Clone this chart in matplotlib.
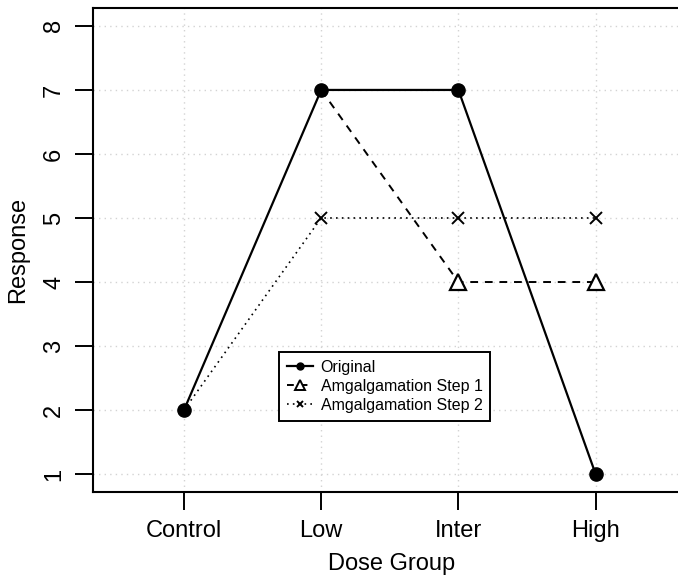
import matplotlib
matplotlib.use("Agg")
import matplotlib.pyplot as plt
from matplotlib.lines import Line2D

plt.rcParams['font.family'] = ['Liberation Sans', 'DejaVu Sans']

groups = ["Control", "Low", "Inter", "High"]
original = [2, 7, 7, 1]
step1 = [2, 7, 4, 4]
step2 = [2, 5, 5, 5]
yticks = [1, 2, 3, 4, 5, 6, 7, 8]

x = list(range(1, len(groups) + 1))

fig = plt.figure(figsize=(6.78, 5.82), dpi=100)
ax = fig.add_axes([93/678, 90/582, (690-93)/678, (492-8)/582])

ax.set_xlim(0.337, 4.663 + (690-686.6)/137.2)
ax.set_ylim(0.72, 8.28)

for xv in x:
    ax.axvline(xv, color='#d3d3d3', linestyle=(0, (1, 3)), linewidth=1.0, zorder=0)
for yv in yticks:
    ax.axhline(yv, color='#d3d3d3', linestyle=(0, (1, 3)), linewidth=1.0, zorder=0)

ax.plot(x, step2, color='black', linestyle=(0, (1, 2.5)), linewidth=1.2,
        marker='x', markersize=9, markeredgewidth=1.4, markevery=[1, 2, 3], zorder=2)
ax.plot(x[1:], step1[1:], color='black', linestyle=(0, (4, 3.5)), linewidth=1.4,
        marker='^', markersize=12, markerfacecolor='white', markeredgewidth=1.6,
        markevery=[1, 2], zorder=3)
ax.plot(x, original, color='black', linestyle='-', linewidth=1.6,
        marker='o', markersize=9.5, zorder=4)

ax.set_xticks(x)
ax.set_xticklabels(groups, fontsize=17)
ax.set_yticks(yticks)
ax.set_yticklabels([str(v) for v in yticks], fontsize=17, rotation=90, va='center')
ax.tick_params(axis='both', length=13, width=1.4, color='black')
ax.tick_params(axis='x', pad=7)
ax.tick_params(axis='y', pad=7)

for s in ax.spines.values():
    s.set_linewidth(1.5)
ax.spines['right'].set_visible(False)

ax.set_xlabel("Dose Group", fontsize=17, labelpad=8)
ax.set_ylabel("Response", fontsize=17, labelpad=10)

handles = [
    Line2D([], [], color='black', linestyle='-', linewidth=1.6, marker='o', markersize=5),
    Line2D([], [], color='black', linestyle=(0, (3.5, 3.5)), linewidth=1.4, marker='^',
           markersize=7, markerfacecolor='white', markeredgewidth=1.4),
    Line2D([], [], color='black', linestyle=(0, (1, 2.5)), linewidth=1.2, marker='x',
           markersize=5, markeredgewidth=1.4),
]
labels = ["Original", "Amgalgamation Step 1", "Amgalgamation Step 2"]
leg = ax.legend(handles, labels, loc='upper left',
                bbox_to_anchor=((279-93)/(690-93), (492-352)/(492-8)),
                fontsize=11.5, frameon=True, fancybox=False, edgecolor='black',
                framealpha=1, borderpad=0.5, labelspacing=0.25, handlelength=1.6,
                handletextpad=0.5, borderaxespad=0)
leg.get_frame().set_linewidth(1.4)

fig.savefig("out.png", dpi=100)
